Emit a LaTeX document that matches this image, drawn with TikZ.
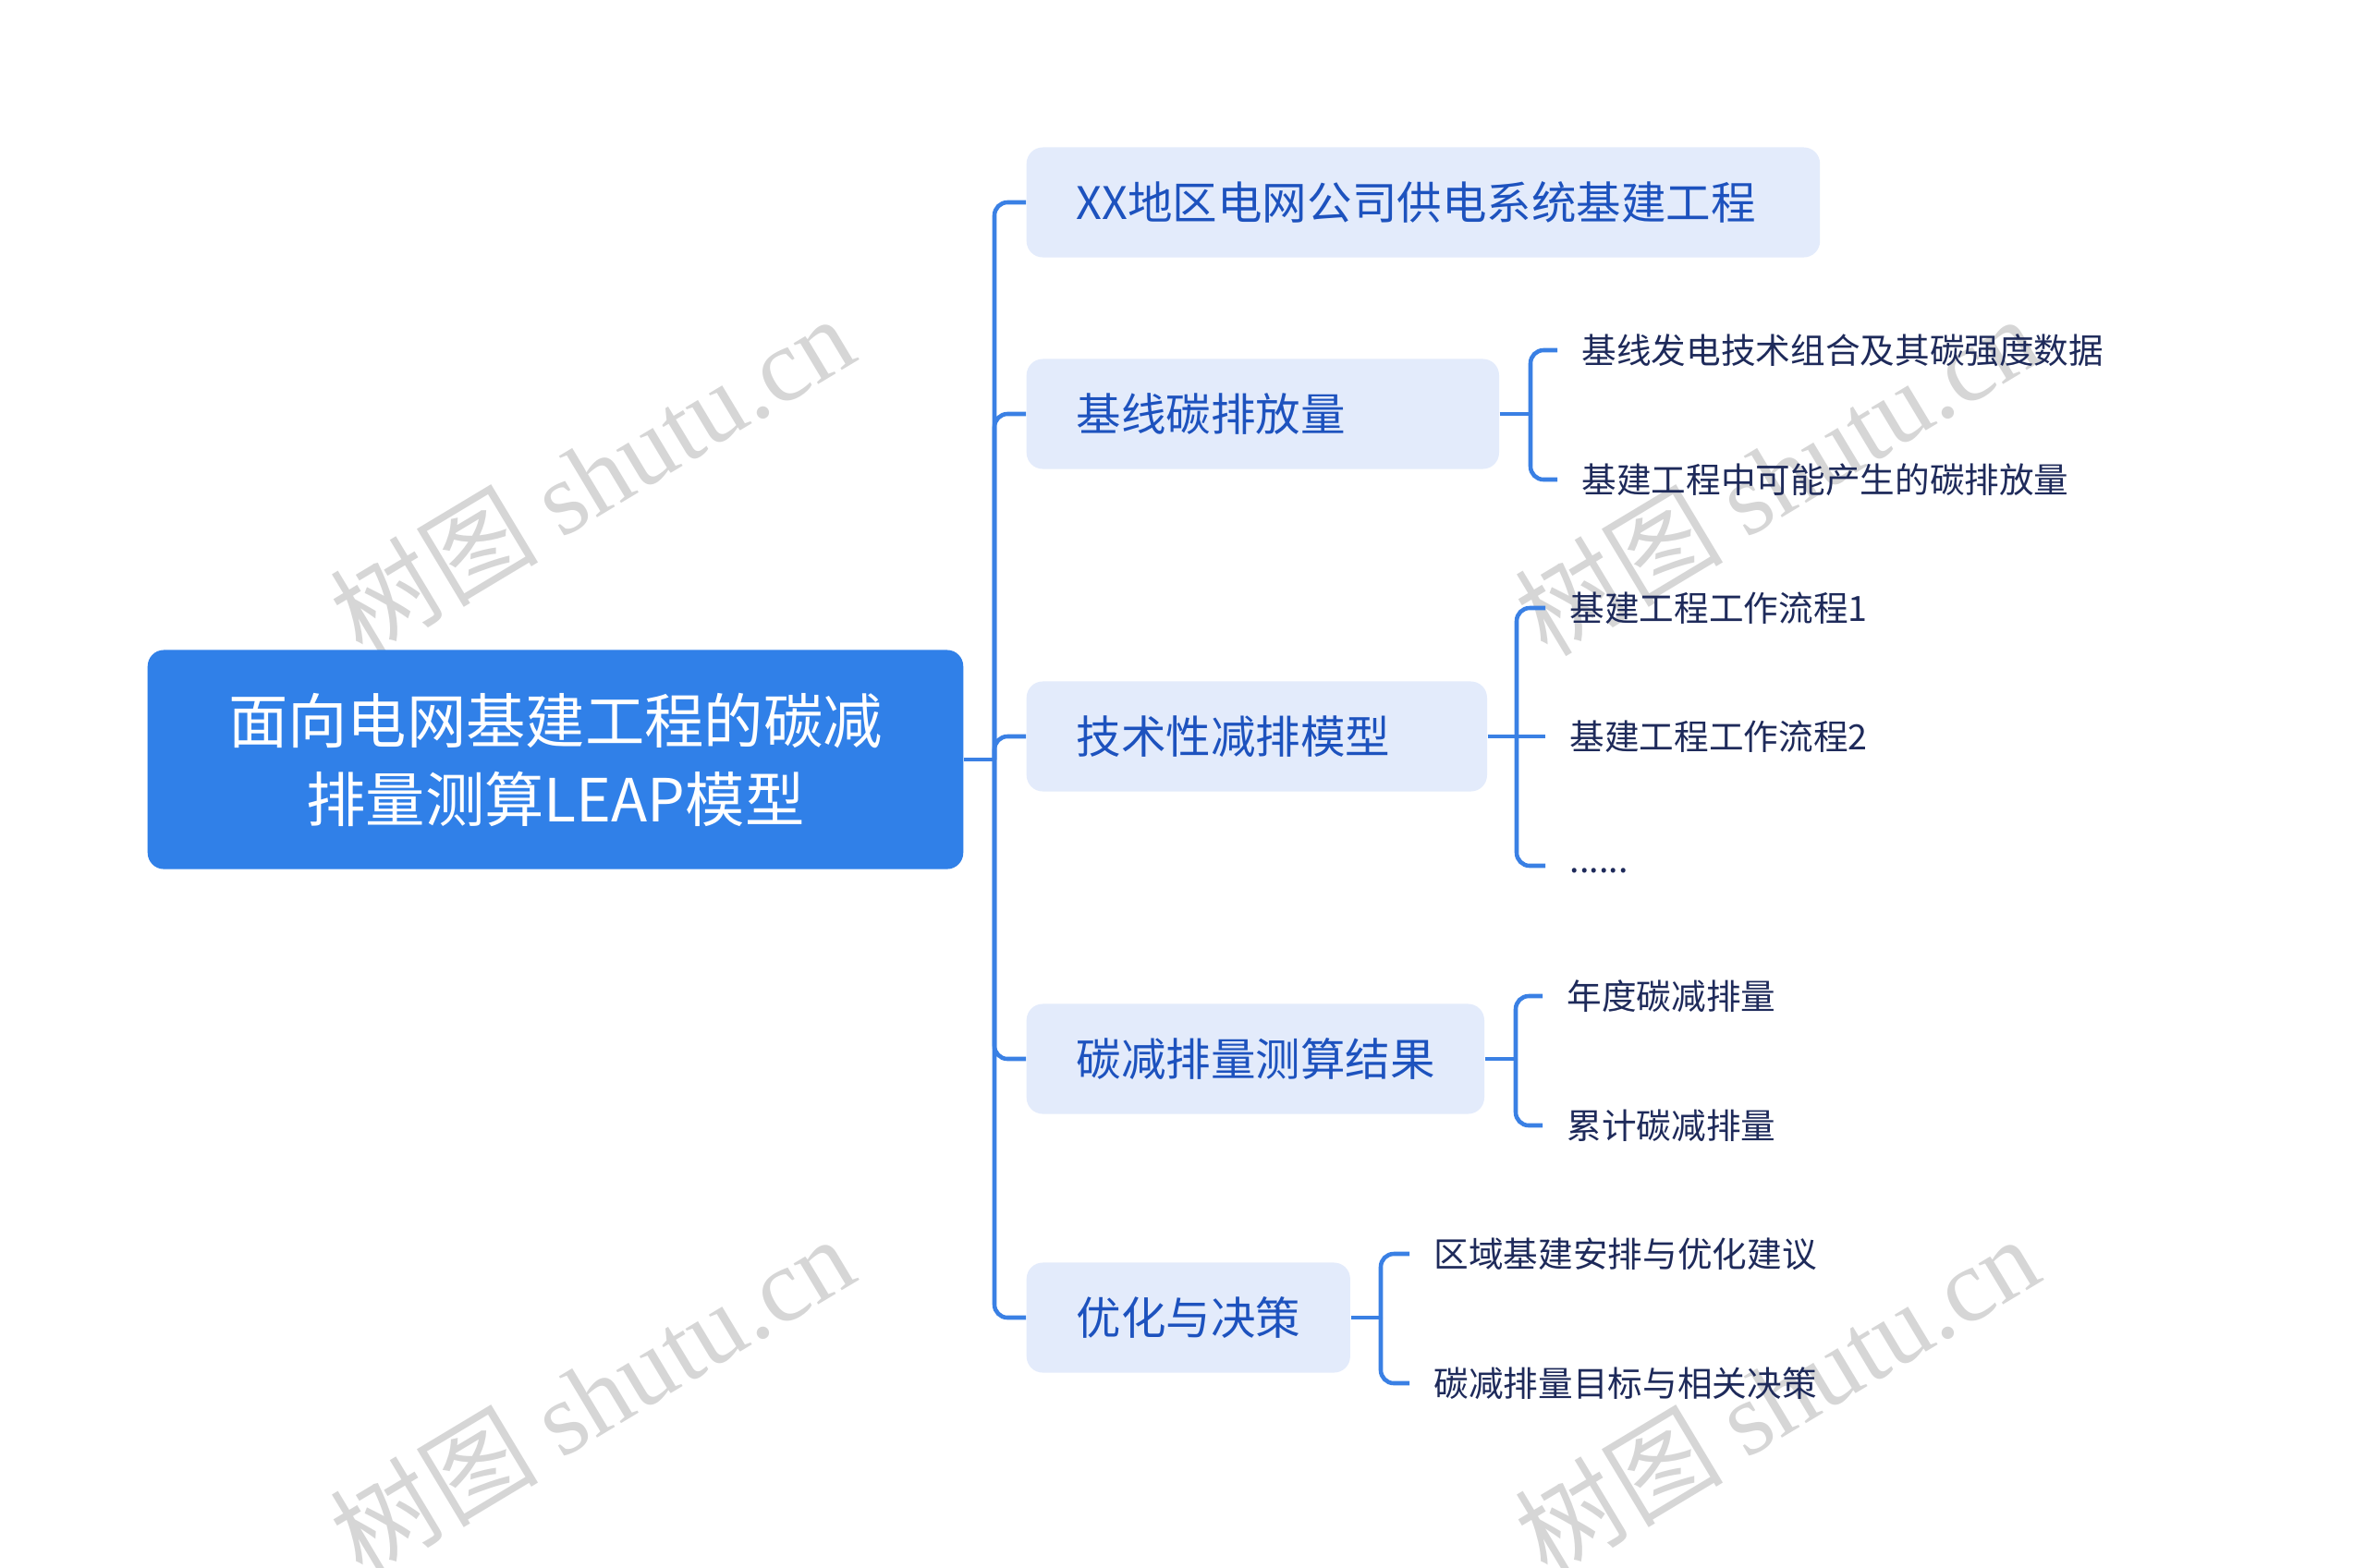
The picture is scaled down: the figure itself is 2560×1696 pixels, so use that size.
\documentclass[tikz,border=0pt]{standalone}
\usepackage{fontspec}
\setmainfont{Noto Sans CJK SC}
\newfontfamily\filigrane{Liberation Serif}
\usepackage{tikz}
\definecolor{bleuracine}{HTML}{3080E8}
\definecolor{bleuclair}{HTML}{E3EBFB}
\definecolor{bleutexte}{HTML}{1D52BE}
\definecolor{bleutrait}{HTML}{3A80E4}
\definecolor{marine}{HTML}{1E2A5A}
\definecolor{grisfil}{HTML}{D6D6D6}
\tikzstyle{racine} = [rectangle, rounded corners=5pt, fill=bleuracine, text=white, minimum width=8.82cm, minimum height=2.37cm, align=center, font=\fontsize{18.3pt}{24.2pt}\selectfont]
\tikzstyle{branche} = [rectangle, rounded corners=5pt, fill=bleuclair, text=bleutexte, minimum height=1.19cm, inner xsep=0.54cm, align=left, font=\fontsize{13.8pt}{16pt}\selectfont]
\tikzstyle{feuille} = [inner xsep=0.26cm, text=marine, font=\fontsize{10.7pt}{13pt}\selectfont]
\tikzstyle{lien} = [draw=bleutrait, line width=1.3pt, rounded corners=4pt]
\tikzstyle{marque} = [text=grisfil, rotate=31, font=\fontsize{32pt}{36pt}\selectfont]

\begin{document}
\begin{tikzpicture}[x=0.01cm, y=-0.01cm]
        \useasboundingbox (0,0) rectangle (2560,1696);

        \node (W1) [marque] at (640,514) {树图 {\filigrane shutu.cn}};
        \node (W2) [marque] at (1922,514) {树图 {\filigrane shutu.cn}};
        \node (W3) [marque] at (640,1510) {树图 {\filigrane shutu.cn}};
        \node (W4) [marque] at (1922,1510) {树图 {\filigrane shutu.cn}};

        \node (R) [racine] at (601,822) {面向电网基建工程的碳减\\排量测算LEAP模型};

        \node (B1) [branche, anchor=west, text width=7.50cm] at (1110,219) {XX地区电网公司供电系统基建工程};
        \node (B2) [branche, anchor=west, text width=4.03cm] at (1110,448) {基线碳排放量};
        \node (B3) [branche, anchor=west, text width=3.90cm] at (1110,797) {技术性减排模型};
        \node (B4) [branche, anchor=west, text width=3.87cm] at (1110,1146) {碳减排量测算结果};
        \node (B5) [branche, anchor=west, text width=2.42cm] at (1110,1426) {优化与决策};

        \node (C21) [feuille, anchor=west] at (1685,379) {基线发电技术组合及其碳强度数据};
        \node (C22) [feuille, anchor=west] at (1685,519) {基建工程中可能产生的碳排放量};
        \node (C31) [feuille, anchor=west] at (1672,658) {基建工程工作流程1};
        \node (C32) [feuille, anchor=west] at (1672,797) {基建工程工作流程2};
        \node (C33) [feuille, anchor=west] at (1672,937) {\raisebox{-0.8ex}{......}};
        \node (C41) [feuille, anchor=west] at (1669,1078) {年度碳减排量};
        \node (C42) [feuille, anchor=west] at (1669,1218) {累计碳减排量};
        \node (C51) [feuille, anchor=west] at (1525,1357) {区域基建安排与优化建议};
        \node (C52) [feuille, anchor=west] at (1525,1497) {碳减排量目标与相关决策};

        \coordinate (T) at (1076,822);
        \draw [lien] (R.east) -- (T);
        \draw [lien] (T) |- (B1.west);
        \draw [lien] (T) |- (B2.west);
        \draw [lien] (T) |- (B3.west);
        \draw [lien] (T) |- (B4.west);
        \draw [lien] (T) |- (B5.west);

        \coordinate (K2) at (1656,448);
        \draw [lien] (B2.east) -- (K2);
        \draw [lien] (K2) |- (C21.west);
        \draw [lien] (K2) |- (C22.west);

        \coordinate (K3) at (1641,797);
        \draw [lien] (B3.east) -- (K3);
        \draw [lien] (K3) |- (C31.west);
        \draw [lien] (K3) -- (C32.west);
        \draw [lien] (K3) |- (C33.west);

        \coordinate (K4) at (1640,1146);
        \draw [lien] (B4.east) -- (K4);
        \draw [lien] (K4) |- (C41.west);
        \draw [lien] (K4) |- (C42.west);

        \coordinate (K5) at (1494,1426);
        \draw [lien] (B5.east) -- (K5);
        \draw [lien] (K5) |- (C51.west);
        \draw [lien] (K5) |- (C52.west);

    \end{tikzpicture}
\end{document}
